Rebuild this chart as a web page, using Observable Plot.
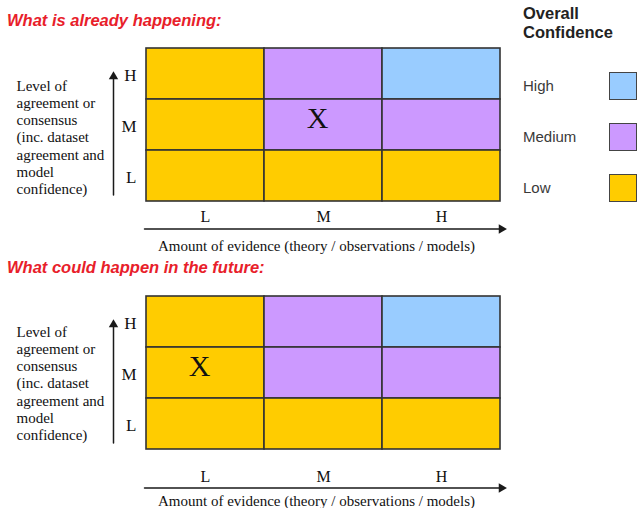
<!DOCTYPE html>
<html><head><meta charset="utf-8">
<script src="https://cdn.jsdelivr.net/npm/d3@7"></script>
<script src="https://cdn.jsdelivr.net/npm/@observablehq/plot@0.6"></script>
<style>
body{margin:0;background:#fff;}
#root{position:relative;width:639px;height:508px;overflow:hidden;background:#fff;}
.title{position:absolute;left:7px;font-family:"Liberation Sans",Arial,sans-serif;font-weight:bold;font-style:italic;font-size:16.5px;color:#e8202a;line-height:20px;white-space:nowrap;}
.panel{position:absolute;left:0;}
.lg-title{position:absolute;left:523px;top:4px;font-family:"Liberation Sans",Arial,sans-serif;font-weight:bold;font-size:16.5px;line-height:19px;color:#222;}
.lg-label{position:absolute;left:523px;font-family:"Liberation Sans",Arial,sans-serif;font-size:15px;line-height:18px;color:#3a3a3a;}
.lg-swatch{position:absolute;left:609px;width:26px;height:26px;border:1.5px solid #444;}
</style></head>
<body><div id="root"></div>
<script>
// ---- data ----
const evidenceLevels = ["L", "M", "H"];
const agreementLevels = ["H", "M", "L"]; // top to bottom
const confidenceLevels = ["High", "Medium", "Low"];
const confidenceColors = ["#99ccff", "#cc99ff", "#ffcc00"];
const rowHigh = ["Low", "Medium", "High"];     // agreement H, by evidence L/M/H
const rowMedium = ["Low", "Medium", "Medium"]; // agreement M
const rowLow = ["Low", "Low", "Low"];          // agreement L
const panelTitles = ["What is already happening:", "What could happen in the future:"];
const markerEvidence = ["M", "L"];
const markerAgreement = ["M", "M"];
const yTitle = "Level of\nagreement or\nconsensus\n(inc. dataset\nagreement and\nmodel\nconfidence)";
const xTitle = "Amount of evidence (theory / observations / models)";
const legendTitle = ["Overall", "Confidence"];

const rows = [rowHigh, rowMedium, rowLow];
const cells = agreementLevels.flatMap((a, i) =>
  rows[i].map((c, j) => ({evidence: evidenceLevels[j], agreement: a, confidence: c})));

// ---- layout (styling) ----
const layouts = [
  {top: 30, height: 225, titleTop: 10, tickPad: 8, arrowDy: 53, xTitleDy: 44, yTextDy: 12},
  {top: 278, height: 230, titleTop: 257, tickPad: 20, arrowDy: 64, xTitleDy: 51, yTextDy: 10}
];

const root = document.getElementById("root");
const ink = "#1a1a1a";

layouts.forEach((L, p) => {
  const t = document.createElement("div");
  t.className = "title";
  t.style.top = L.titleTop + "px";
  t.textContent = panelTitles[p];
  root.appendChild(t);

  const first = evidenceLevels[0], last = evidenceLevels[2];
  const low = agreementLevels[2], high = agreementLevels[0];

  const chart = Plot.plot({
    width: 639,
    height: L.height,
    marginTop: 17,
    marginBottom: L.height - 17 - 155,
    marginLeft: 145,
    marginRight: 138,
    x: {type: "band", domain: evidenceLevels, padding: 0},
    y: {type: "band", domain: agreementLevels, padding: 0},
    color: {domain: confidenceLevels, range: confidenceColors},
    style: {fontFamily: '"Liberation Serif", "Times New Roman", serif', fontSize: "15px", color: "#111", background: "transparent", overflow: "visible"},
    marks: [
      Plot.cell(cells, {x: "evidence", y: "agreement", fill: "confidence", stroke: "#333", strokeWidth: 1.6}),
      Plot.text([{evidence: markerEvidence[p], agreement: markerAgreement[p]}], {
        x: "evidence", y: "agreement", text: () => "X", fontSize: 30, dx: -6, dy: -7, fill: "#111"
      }),
      Plot.axisX({tickSize: 0, tickPadding: L.tickPad, fontSize: 16, label: null}),
      Plot.axisY({tickSize: 0, tickPadding: 9, fontSize: 17, label: null, dy: 2}),
      // horizontal arrow
      Plot.arrow([0], {
        x1: () => first, x2: () => last, y1: () => low, y2: () => low,
        dy: L.arrowDy, insetStart: -61, insetEnd: -61, headLength: 0, strokeWidth: 1.5, stroke: ink
      }),
      Plot.dot([0], {x: () => last, y: () => low, dx: 60, dy: L.arrowDy, symbol: "triangle", r: 3.5, rotate: 90, fill: ink, stroke: "none"}),
      // vertical arrow
      Plot.arrow([0], {
        x1: () => first, x2: () => first, y1: () => low, y2: () => high,
        dx: -92, insetStart: -19, insetEnd: 1, headLength: 0, strokeWidth: 1.5, stroke: ink
      }),
      Plot.dot([0], {x: () => first, y: () => high, dx: -92, dy: 2.6, symbol: "triangle", r: 3.5, fill: ink, stroke: "none"}),
      Plot.text([yTitle], {frameAnchor: "left", textAnchor: "start", dx: -129, dy: L.yTextDy, lineHeight: 1.14, fontSize: 15, fill: "#111"}),
      Plot.text([xTitle], {frameAnchor: "bottom", dx: -7, dy: L.xTitleDy, lineAnchor: "middle", fontSize: 15, fill: "#111"})
    ]
  });
  chart.classList.add("panel");
  chart.style.top = L.top + "px";
  root.appendChild(chart);
});

// legend
const lt = document.createElement("div");
lt.className = "lg-title";
lt.innerHTML = legendTitle.join("<br>");
root.appendChild(lt);
const legendCenters = [86, 137, 188];
confidenceLevels.forEach((lvl, i) => {
  const lab = document.createElement("div");
  lab.className = "lg-label";
  lab.style.top = (legendCenters[i] - 9) + "px";
  lab.textContent = lvl;
  root.appendChild(lab);
  const sw = document.createElement("div");
  sw.className = "lg-swatch";
  sw.style.top = (legendCenters[i] - 14) + "px";
  sw.style.background = confidenceColors[i];
  root.appendChild(sw);
});
</script>
</body></html>
